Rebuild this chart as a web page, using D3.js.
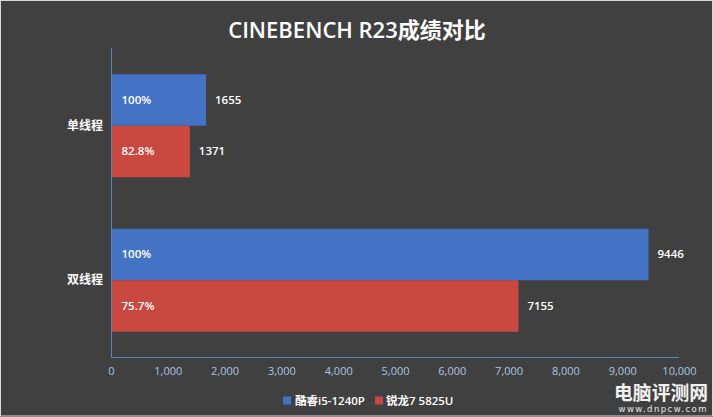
<!DOCTYPE html>
<html><head><meta charset="utf-8">
<script src="https://cdn.jsdelivr.net/npm/d3@7"></script>
<style>
html,body{margin:0;padding:0;background:#404040;overflow:hidden}
text{font-family:"Open Sans","Noto Sans CJK SC",sans-serif}
</style></head><body>
<svg id="c" width="713" height="417"></svg>
<script>
const categories = ["单线程","双线程"];
const seriesNames = ["酷睿i5-1240P","锐龙7 5825U"];
const seriesA = [1655, 9446];
const seriesB = [1371, 7155];
const labelsA = ["100%","100%"];
const labelsB = ["82.8%","75.7%"];
const ticks = [0,1000,2000,3000,4000,5000,6000,7000,8000,9000,10000];
const colors = ["#4472c4","#c9483f"];
const cjk = '"Noto Sans CJK SC",sans-serif';

const svg = d3.select("#c");
svg.append("rect").attr("width",713).attr("height",417).attr("fill","#404040");
svg.append("rect").attr("x",0.5).attr("y",0.5).attr("width",712).attr("height",415.5)
  .attr("fill","none").attr("stroke","#d9d9d9");

const x = d3.scaleLinear().domain([0,10000]).range([112,680]);
const y = d3.scaleBand().domain(categories).range([48.5,357.5]).paddingInner(1/3).paddingOuter(1/6);
const sub = d3.scaleBand().domain([0,1]).range([0,y.bandwidth()]);

categories.forEach((c,i)=>{
  [seriesA,seriesB].forEach((s,k)=>{
    const yy = y(c)+sub(k), h = sub.bandwidth();
    svg.append("rect").attr("x",x(0)).attr("y",yy).attr("width",x(s[i])-x(0)).attr("height",h).attr("fill",colors[k]);
    svg.append("text").attr("x",x(0)+9.5).attr("y",yy+h/2+3.5).attr("fill","#fff")
      .attr("font-size",11.5).attr("font-weight",600).text((k?labelsB:labelsA)[i]);
    svg.append("text").attr("x",x(s[i])+9).attr("y",yy+h/2+3.5).attr("fill","#fff")
      .attr("font-size",11.5).attr("font-weight",600).text(s[i]);
  });
  svg.append("text").attr("x",103).attr("y",y(c)+y.bandwidth()/2+4).attr("text-anchor","end")
    .attr("fill","#fff").attr("font-size",12).attr("font-weight",700).style("font-family",cjk).text(c);
});

const line="#5b86b4";
svg.append("line").attr("x1",111.5).attr("x2",111.5).attr("y1",48).attr("y2",357.5).attr("stroke",line);
svg.append("line").attr("x1",111).attr("x2",679).attr("y1",357.5).attr("y2",357.5).attr("stroke",line);

const axis = svg.append("g").attr("transform","translate(-1,357)")
  .call(d3.axisBottom(x).tickValues(ticks).tickSize(0).tickPadding(10).tickFormat(d3.format(",")));
axis.select(".domain").remove();
axis.selectAll("text").attr("fill","#a9c4e0").attr("font-size",11)
  .style("font-family",'"Open Sans",sans-serif');

svg.append("text").attr("x",357).attr("y",37.5).attr("text-anchor","middle").attr("fill","#fff")
  .attr("font-size",22).attr("font-weight",600).text("CINEBENCH R23成绩对比");

const lg = [[283,295],[375,386]];
seriesNames.forEach((n,k)=>{
  svg.append("rect").attr("x",lg[k][0]).attr("y",396.5).attr("width",8).attr("height",8).attr("fill",colors[k]);
  svg.append("text").attr("x",lg[k][1]).attr("y",404.5).attr("fill","#fff")
    .attr("font-size",11.5).attr("font-weight",600).text(n);
});

svg.append("text").attr("x",708).attr("y",400).attr("text-anchor","end").attr("fill","#f2f2f2")
  .attr("font-size",18.8).attr("font-weight",700).style("font-family",cjk).text("电脑评测网");
svg.append("text").attr("x",708).attr("y",412).attr("text-anchor","end").attr("fill","#e6e6e6")
  .attr("font-size",8.5).attr("letter-spacing",1.45).style("font-family",'"DejaVu Sans",sans-serif').text("www.dnpcw.com");
</script>
</body></html>
